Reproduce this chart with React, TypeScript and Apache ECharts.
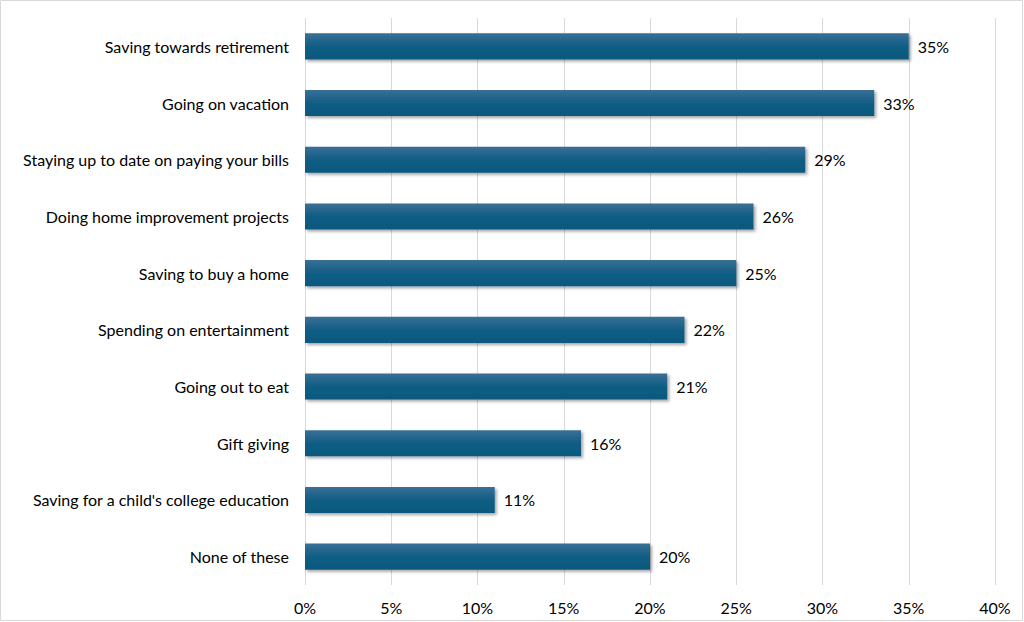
import React, { useEffect, useRef } from "react";
import * as echarts from "echarts";

const categories = [
  "Saving towards retirement",
  "Going on vacation",
  "Staying up to date on paying your bills",
  "Doing home improvement projects",
  "Saving to buy a home",
  "Spending on entertainment",
  "Going out to eat",
  "Gift giving",
  "Saving for a child's college education",
  "None of these",
];
const values = [35, 33, 29, 26, 25, 22, 21, 16, 11, 20];
const FONT = "Lato, 'Liberation Sans', sans-serif";

export default function App() {
  const ref = useRef<HTMLDivElement>(null);
  useEffect(() => {
    document.body.style.margin = "0";
    const chart = echarts.init(ref.current!, null, { renderer: "svg" });
    chart.setOption({
      animation: false,
      backgroundColor: "#ffffff",
      textStyle: { fontFamily: FONT },
      graphic: [
        {
          type: "rect",
          shape: { x: 0.5, y: 0.5, width: 1022, height: 620 },
          style: { fill: "none", stroke: "#d9d9d9", lineWidth: 1 },
          silent: true,
        },
      ],
      grid: { left: 305, right: 29, top: 18, bottom: 37, containLabel: false },
      xAxis: {
        type: "value",
        min: 0,
        max: 40,
        interval: 5,
        axisLine: { show: false },
        axisTick: { show: false },
        splitLine: { show: true, lineStyle: { color: "#d9d9d9", width: 1 } },
        axisLabel: {
          formatter: "{value}%",
          color: "#000",
          fontSize: 16,
          fontFamily: FONT,
          margin: 14,
        },
      },
      yAxis: {
        type: "category",
        data: categories,
        inverse: true,
        axisLine: { show: false },
        axisTick: { show: false },
        axisLabel: { color: "#000", fontSize: 16, fontFamily: FONT, margin: 16 },
      },
      series: [
        {
          type: "bar",
          data: values,
          barWidth: "46%",
          itemStyle: {
            color: new echarts.graphic.LinearGradient(0, 0, 0, 1, [
              { offset: 0, color: "#3a7096" },
              { offset: 0.5, color: "#115d84" },
              { offset: 1, color: "#0b587e" },
            ]),
            shadowBlur: 3,
            shadowOffsetX: 2,
            shadowOffsetY: 2,
            shadowColor: "rgba(0,0,0,0.35)",
          },
          label: {
            show: true,
            position: "right",
            distance: 9,
            formatter: "{c}%",
            color: "#000",
            fontSize: 16,
            fontFamily: FONT,
          },
        },
      ],
    });
    return () => chart.dispose();
  }, []);
  return <div ref={ref} style={{ width: 1024, height: 622 }} />;
}
